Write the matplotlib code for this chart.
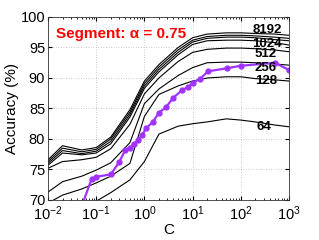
import numpy as np
import matplotlib
matplotlib.use("Agg")
import matplotlib.pyplot as plt
from matplotlib.ticker import LogLocator, NullFormatter

plt.rcParams['font.family'] = ['Liberation Sans', 'DejaVu Sans']
plt.rcParams['mathtext.fontset'] = 'custom'
plt.rcParams['mathtext.rm'] = 'Liberation Sans'
plt.rcParams['mathtext.it'] = 'Liberation Sans:italic'

# regularisation values for the black curves
c_grid = [0.01, 0.02, 0.05, 0.1, 0.2, 0.5, 1, 2, 5, 10, 20, 50, 100, 200, 500, 1000]

# accuracy (%) per codebook size
acc_8192 = [76.6, 78.9, 78.2, 78.6, 80.3, 84.8, 89.5, 92.2, 95.0, 96.6, 97.2, 97.4, 97.4, 97.3, 97.2, 97.0]
acc_4096 = [76.3, 78.5, 77.9, 78.3, 80.0, 84.4, 89.1, 91.8, 94.6, 96.2, 96.8, 97.0, 97.0, 96.9, 96.7, 96.5]
acc_2048 = [76.0, 78.1, 77.6, 78.0, 79.6, 84.0, 88.7, 91.4, 94.2, 95.9, 96.5, 96.7, 96.7, 96.6, 96.3, 96.1]
acc_1024 = [75.7, 77.7, 77.4, 77.7, 79.2, 83.6, 88.3, 91.0, 93.8, 95.5, 96.1, 96.2, 96.2, 96.1, 95.8, 95.4]
acc_512 = [75.2, 76.3, 76.6, 77.0, 78.4, 82.4, 87.4, 90.0, 92.7, 94.2, 94.7, 94.9, 94.9, 94.8, 94.6, 94.3]
acc_256 = [71.3, 73.0, 73.9, 74.9, 76.1, 79.4, 85.8, 88.2, 90.4, 91.7, 92.5, 92.6, 92.6, 92.5, 92.3, 92.1]
acc_128 = [69.5, 70.8, 71.8, 72.8, 73.9, 76.0, 83.7, 87.3, 88.7, 89.5, 90.0, 90.2, 90.2, 89.9, 89.7, 89.5]
acc_64 = [64.0, 66.0, 68.4, 69.8, 71.2, 73.3, 76.3, 80.8, 82.1, 82.5, 82.8, 83.3, 83.1, 82.8, 82.3, 82.0]

curves = [acc_8192, acc_4096, acc_2048, acc_1024, acc_512, acc_256, acc_128, acc_64]

# segment-based curve (purple)
c_seg = [0.05, 0.08, 0.1, 0.2, 0.3, 0.4, 0.5, 0.6, 0.75, 0.9, 1.1, 1.5, 2, 2.8, 3.9, 6, 8, 10, 14, 21, 52, 100, 510, 1000]
acc_seg = [69.0, 73.4, 73.8, 74.2, 76.2, 78.2, 78.6, 79.2, 79.8, 80.7, 81.8, 82.8, 84.3, 85.2, 86.7, 88.0,
           88.5, 89.2, 89.8, 91.1, 91.6, 92.0, 92.5, 91.3]

# text labels next to the curves
label_text = ['8192', '1024', '512', '256', '128', '64']
label_x = [350, 350, 330, 330, 330, 300]
label_y = [97.8, 95.6, 94.0, 91.6, 89.5, 82.0]

fig = plt.figure(figsize=(3.19, 2.40), dpi=100)
ax = fig.add_axes([0.1505, 0.1667, 0.7555, 0.7625])

for acc in curves:
    ax.plot(c_grid, acc, color='black', lw=0.8)

ax.plot(c_seg, acc_seg, color='#a033ff', lw=1.6, marker='o', ms=3.5, mec='#a033ff', mfc='#a033ff')

for t, x, y in zip(label_text, label_x, label_y):
    ax.text(x, y, t, ha='center', va='center', fontsize=9.5, fontweight='bold', color='black')

ax.text(0.035, 0.87, 'Segment: \u03b1 = 0.75', transform=ax.transAxes, color='red',
        fontsize=11, fontweight='bold', ha='left', va='bottom')

ax.set_xscale('log')
ax.set_xlim(0.01, 1000)
ax.set_ylim(70, 100)
ax.set_yticks([70, 75, 80, 85, 90, 95, 100])
ax.xaxis.set_major_locator(LogLocator(base=10, numticks=10))
ax.xaxis.set_minor_locator(LogLocator(base=10, subs=np.arange(2, 10), numticks=20))
ax.xaxis.set_minor_formatter(NullFormatter())

ax.grid(True, which='major', linestyle=(0, (1, 2)), color='#bbbbbb', lw=0.6)
ax.tick_params(which='both', direction='in', top=True, right=True, labelsize=10.5)
ax.tick_params(axis='x', pad=3)
ax.tick_params(axis='y', pad=2)
ax.tick_params(which='major', length=3)
ax.tick_params(which='minor', length=1.5)
for s in ax.spines.values():
    s.set_linewidth(0.6)
    s.set_color('#333333')

ax.set_xlabel('C', fontsize=11, labelpad=0)
ax.set_ylabel('Accuracy (%)', fontsize=11, labelpad=1)

fig.savefig('out.png', dpi=100)
